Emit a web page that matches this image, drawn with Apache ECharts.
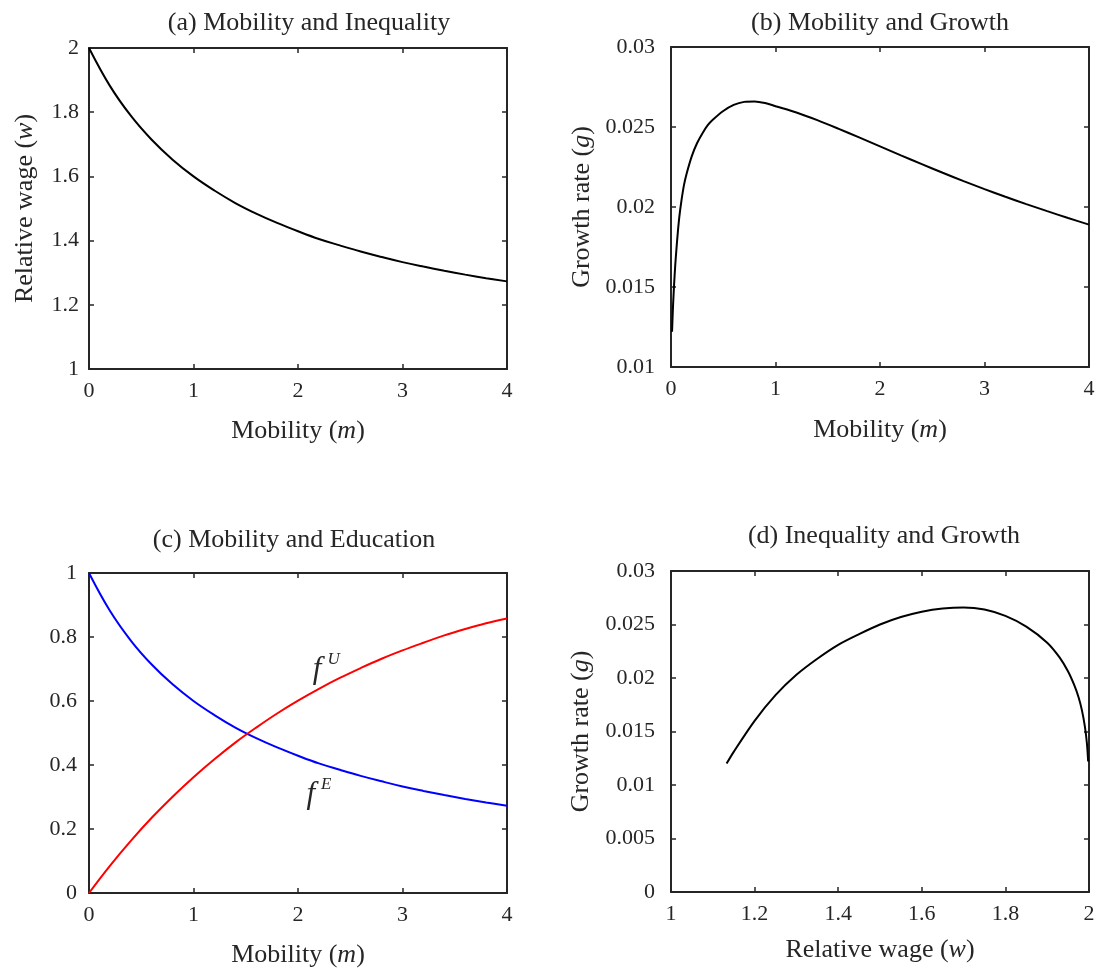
<!DOCTYPE html>
<html>
<head>
<meta charset="utf-8">
<script src="https://cdn.jsdelivr.net/npm/echarts@6/dist/echarts.min.js"></script>
<style>
  html, body { margin: 0; padding: 0; background: #ffffff; }
  #main { width: 1099px; height: 977px; }
</style>
</head>
<body>
<div id="main"></div>
<script>
// ---- data ----
// (a) relative wage w against mobility m
const mobility = [0, 0.2, 0.4, 0.6, 0.8, 1.0, 1.2, 1.4, 1.6, 1.8, 2.0, 2.2, 2.4, 2.6, 2.8, 3.0, 3.2, 3.4, 3.6, 3.8, 4.0];
const relWage = [2.000, 1.882, 1.789, 1.714, 1.652, 1.600, 1.556, 1.517, 1.484, 1.455, 1.429, 1.405, 1.385, 1.366, 1.349, 1.333, 1.319, 1.306, 1.294, 1.283, 1.273];

// (b) growth rate g against mobility m
const mobilityB = [0.01, 0.015, 0.02, 0.03, 0.04, 0.05, 0.065, 0.08, 0.1, 0.125, 0.15, 0.2, 0.25, 0.3, 0.35, 0.4, 0.5, 0.6, 0.7, 0.8, 0.9, 1.0, 1.2, 1.4, 1.6, 1.8, 2.0, 2.2, 2.4, 2.6, 2.8, 3.0, 3.2, 3.4, 3.6, 3.8, 4.0];
const growthB = [0.0122, 0.0131, 0.0139, 0.0152, 0.0163, 0.0172, 0.0184, 0.0194, 0.0204, 0.0214, 0.0221, 0.0232, 0.0240, 0.0246, 0.0251, 0.02545, 0.0260, 0.02638, 0.02657, 0.02660, 0.02650, 0.02630, 0.02591, 0.02543, 0.02490, 0.02435, 0.02379, 0.02323, 0.02268, 0.02214, 0.02162, 0.02112, 0.02064, 0.02018, 0.01974, 0.01931, 0.01890];

// (c) education shares against mobility m
const shareE = [1.000, 0.882, 0.789, 0.714, 0.652, 0.600, 0.556, 0.517, 0.484, 0.455, 0.429, 0.405, 0.385, 0.366, 0.349, 0.333, 0.319, 0.306, 0.294, 0.283, 0.273];
const shareU = [0, 0.085, 0.163, 0.235, 0.301, 0.362, 0.418, 0.470, 0.517, 0.561, 0.601, 0.638, 0.672, 0.703, 0.732, 0.758, 0.782, 0.805, 0.825, 0.843, 0.858];

// (d) growth rate g against relative wage w
const wageD = [1.133, 1.15, 1.2, 1.25, 1.3, 1.35, 1.4, 1.45, 1.5, 1.55, 1.6, 1.65, 1.7, 1.75, 1.8, 1.85, 1.9, 1.93, 1.95, 1.965, 1.975, 1.983, 1.99, 1.995, 1.998];
const growthD = [0.0120, 0.0131, 0.0160, 0.0184, 0.0203, 0.0218, 0.0231, 0.0241, 0.0250, 0.0257, 0.0262, 0.0265, 0.0266, 0.0264, 0.0258, 0.0248, 0.0233, 0.0219, 0.0206, 0.0193, 0.0182, 0.0170, 0.0155, 0.0139, 0.0122];

// tick values
const ticksMob = [0, 1, 2, 3, 4];
const ticksWageY = [1, 1.2, 1.4, 1.6, 1.8, 2];
const ticksGrowthB = [0.01, 0.015, 0.02, 0.025, 0.03];
const ticksShare = [0, 0.2, 0.4, 0.6, 0.8, 1];
const ticksWageX = [1, 1.2, 1.4, 1.6, 1.8, 2];
const ticksGrowthD = [0, 0.005, 0.01, 0.015, 0.02, 0.025, 0.03];

const titles = ['(a) Mobility and Inequality', '(b) Mobility and Growth', '(c) Mobility and Education', '(d) Inequality and Growth'];

// ---- styling ----
const INK = '#262626';
const FONT = 'Liberation Serif';
const ITALIC = { fontStyle: 'italic', fontFamily: FONT, fontSize: 26, color: INK };

function zip(xs, ys) { return xs.map((x, i) => [x, ys[i]]); }
function span(t) { return { min: t[0], max: t[t.length - 1], interval: +(t[1] - t[0]).toFixed(6) }; }

function axis(grid, ticks, position, extra) {
  const labelled = position === 'bottom' || position === 'left';
  return Object.assign({
    type: 'value', gridIndex: grid, position: position
  }, span(ticks), {
    axisLine: { show: true, onZero: false, lineStyle: { color: INK, width: 2 } },
    axisTick: { show: true, inside: true, length: 5, lineStyle: { color: INK, width: 1.5 } },
    splitLine: { show: false },
    axisLabel: {
      show: labelled, color: INK, fontFamily: FONT, fontSize: 22,
      showMinLabel: true, showMaxLabel: true, hideOverlap: false,
      margin: position === 'bottom' ? 11 : 10
    }
  }, extra || {});
}

function nameStyle() {
  return { fontFamily: FONT, fontSize: 26, color: INK, rich: { i: ITALIC } };
}

const grids = [
  { left: 89, top: 48, width: 418, height: 321 },
  { left: 671, top: 47, width: 418, height: 320 },
  { left: 89, top: 573, width: 418, height: 320 },
  { left: 671, top: 571, width: 418, height: 321 }
];

const xAxes = [
  axis(0, ticksMob, 'bottom', { name: 'Mobility ({i|m})', nameLocation: 'middle', nameGap: 49, nameTextStyle: nameStyle() }),
  axis(1, ticksMob, 'bottom', { name: 'Mobility ({i|m})', nameLocation: 'middle', nameGap: 50, nameTextStyle: nameStyle() }),
  axis(2, ticksMob, 'bottom', { name: 'Mobility ({i|m})', nameLocation: 'middle', nameGap: 49, nameTextStyle: nameStyle() }),
  axis(3, ticksWageX, 'bottom', { name: 'Relative wage ({i|w})', nameLocation: 'middle', nameGap: 45, nameTextStyle: nameStyle() }),
  axis(0, ticksMob, 'top'),
  axis(1, ticksMob, 'top'),
  axis(2, ticksMob, 'top'),
  axis(3, ticksWageX, 'top')
];

const yAxes = [
  axis(0, ticksWageY, 'left', { name: 'Relative wage ({i|w})', nameLocation: 'middle', nameGap: 51, nameTextStyle: nameStyle() }),
  axis(1, ticksGrowthB, 'left', { name: 'Growth rate ({i|g})', nameLocation: 'middle', nameGap: 76, nameTextStyle: nameStyle() }),
  axis(2, ticksShare, 'left', { axisLabel: { show: true, color: INK, fontFamily: FONT, fontSize: 22, margin: 12 } }),
  axis(3, ticksGrowthD, 'left', { name: 'Growth rate ({i|g})', nameLocation: 'middle', nameGap: 77, nameTextStyle: nameStyle() }),
  axis(0, ticksWageY, 'right'),
  axis(1, ticksGrowthB, 'right'),
  axis(2, ticksShare, 'right'),
  axis(3, ticksGrowthD, 'right')
];
yAxes[1].axisLabel.margin = 16;
yAxes[3].axisLabel.margin = 16;

function curve(idx, data, color, smooth) {
  return {
    type: 'line', xAxisIndex: idx, yAxisIndex: idx, data: data,
    showSymbol: false, symbol: 'none', smooth: smooth, silent: true,
    lineStyle: { color: color, width: 2 }, itemStyle: { color: color }
  };
}

// f with a superscript letter, placed at a data coordinate
function tag(coord, sup) {
  return {
    coord: coord, symbolSize: 1, itemStyle: { color: 'rgba(0,0,0,0)' },
    label: {
      show: true, position: 'inside', formatter: '{f|f}{s|' + sup + '}',
      rich: {
        f: { fontFamily: FONT, fontStyle: 'italic', fontSize: 31, color: INK, lineHeight: 34, verticalAlign: 'bottom' },
        s: { fontFamily: FONT, fontStyle: 'italic', fontSize: 17, color: INK, lineHeight: 34, verticalAlign: 'top', padding: [0, 0, 0, 6] }
      }
    }
  };
}

const blueSeries = curve(2, zip(mobility, shareE), '#0000ff', 0.4);
blueSeries.markPoint = { silent: true, animation: false, data: [tag([2.2, 0.31], 'E')] };
const redSeries = curve(2, zip(mobility, shareU), '#ff0000', 0.4);
redSeries.markPoint = { silent: true, animation: false, data: [tag([2.27, 0.70], 'U')] };

const titleCenters = [[304, 5], [875, 5], [289, 522], [879, 518]];

const option = {
  animation: false,
  backgroundColor: '#ffffff',
  title: titles.map((t, i) => ({
    text: t, left: titleCenters[i][0], top: titleCenters[i][1], textAlign: 'center',
    textStyle: { fontFamily: FONT, fontSize: 26, fontWeight: 'normal', color: INK }
  })),
  grid: grids,
  xAxis: xAxes,
  yAxis: yAxes,
  series: [
    curve(0, zip(mobility, relWage), '#000000', 0.4),
    curve(1, zip(mobilityB, growthB), '#000000', 0.3),
    blueSeries,
    redSeries,
    curve(3, zip(wageD, growthD), '#000000', 0.3)
  ]
};

const chart = echarts.init(document.getElementById('main'), null, { renderer: 'canvas' });
chart.setOption(option);
</script>
</body>
</html>
